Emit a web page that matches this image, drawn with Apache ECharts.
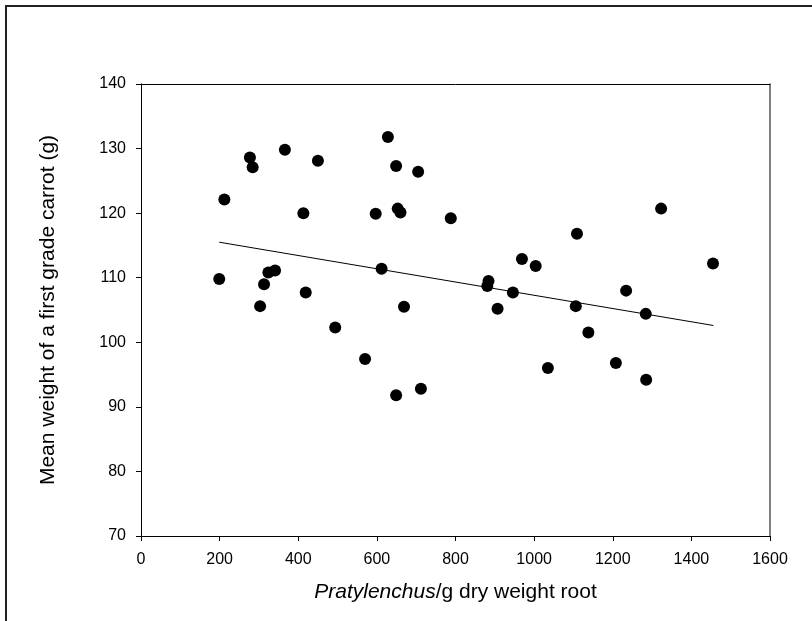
<!DOCTYPE html>
<html>
<head>
<meta charset="utf-8">
<script src="https://cdn.jsdelivr.net/npm/echarts@6/dist/echarts.min.js"></script>
<style>
html,body{margin:0;padding:0;background:#fff;}
#chart{width:812px;height:621px;}
</style>
</head>
<body>
<div id="chart"></div>
<script>
// Pratylenchus per g dry weight root
var densityX = [199, 212, 277, 284, 303, 313, 324, 341, 366, 413, 419, 450, 494, 570, 597, 612, 628, 649, 649, 653, 660, 669, 705, 712, 788, 881, 884, 907, 946, 969, 1004, 1035, 1106, 1109, 1138, 1208, 1234, 1284, 1285, 1323, 1455];
// Mean weight of a first grade carrot (g)
var weightY = [109.8, 122.1, 128.6, 127.1, 105.6, 109.0, 110.8, 111.1, 129.8, 120.0, 107.7, 128.1, 102.3, 97.4, 119.9, 111.4, 131.8, 127.3, 91.8, 120.7, 120.1, 105.5, 126.4, 92.8, 119.2, 108.7, 109.5, 105.2, 107.7, 112.9, 111.8, 96.0, 105.6, 116.8, 101.5, 96.8, 108.0, 104.4, 94.2, 120.7, 112.2];
// Fitted regression line end points
var fitX = [199, 1456];
var fitY = [115.5, 102.6];
var xTicks = [0, 200, 400, 600, 800, 1000, 1200, 1400, 1600];
var yTicks = [70, 80, 90, 100, 110, 120, 130, 140];

var scatterData = densityX.map(function (x, i) { return [x, weightY[i]]; });
var lineData = fitX.map(function (x, i) { return [x, fitY[i]]; });

var chart = echarts.init(document.getElementById('chart'), null, {renderer: 'canvas'});
var font = 'Liberation Sans, Arial, sans-serif';
var xMin = xTicks[0], xMax = xTicks[xTicks.length - 1];
var yMin = yTicks[0], yMax = yTicks[yTicks.length - 1];
chart.setOption({
  animation: false,
  backgroundColor: '#fff',
  graphic: [{
    type: 'rect',
    shape: {x: 6, y: 6, width: 900, height: 800},
    style: {fill: 'none', stroke: '#222', lineWidth: 2},
    silent: true
  }],
  grid: {
    left: 141, right: 42, top: 84, bottom: 85,
    show: false
  },
  xAxis: [{
    type: 'value',
    min: xMin, max: xMax, interval: 200,
    name: '{i|Pratylenchus}/g dry weight root',
    nameLocation: 'middle', nameGap: 46,
    nameTextStyle: {
      fontFamily: font, fontSize: 21, color: '#000',
      rich: {i: {fontFamily: font, fontSize: 21, fontStyle: 'italic', color: '#000'}}
    },
    axisLine: {show: true, onZero: false, lineStyle: {color: '#000', width: 1}},
    axisTick: {show: true, inside: false, length: 5, lineStyle: {color: '#000'}},
    axisLabel: {fontFamily: font, fontSize: 16, color: '#000', margin: 16,
      formatter: function (v) { return String(v); }},
    splitLine: {show: false}
  }, {
    type: 'value', position: 'top',
    min: xMin, max: xMax, interval: 200,
    axisLine: {show: true, onZero: false, lineStyle: {color: '#000', width: 1}},
    axisTick: {show: false}, axisLabel: {show: false}, splitLine: {show: false}
  }],
  yAxis: [{
    type: 'value',
    min: yMin, max: yMax, interval: 10,
    name: 'Mean weight of a first grade carrot (g)',
    nameLocation: 'middle', nameGap: 82,
    nameTextStyle: {fontFamily: font, fontSize: 21, color: '#000'},
    axisLine: {show: true, onZero: false, lineStyle: {color: '#000', width: 1}},
    axisTick: {show: true, inside: false, length: 5, lineStyle: {color: '#000'}},
    axisLabel: {fontFamily: font, fontSize: 16, color: '#000', margin: 15},
    splitLine: {show: false}
  }, {
    type: 'value', position: 'right',
    min: yMin, max: yMax, interval: 10,
    axisLine: {show: true, onZero: false, lineStyle: {color: '#555', width: 1.5}},
    axisTick: {show: false}, axisLabel: {show: false}, splitLine: {show: false}
  }],
  series: [
    {
      type: 'line',
      data: lineData,
      symbol: 'none',
      lineStyle: {color: '#000', width: 1},
      z: 2
    },
    {
      type: 'scatter',
      data: scatterData,
      symbol: 'circle',
      symbolSize: 12,
      itemStyle: {color: '#000', opacity: 1},
      z: 3
    }
  ]
});
</script>
</body>
</html>
